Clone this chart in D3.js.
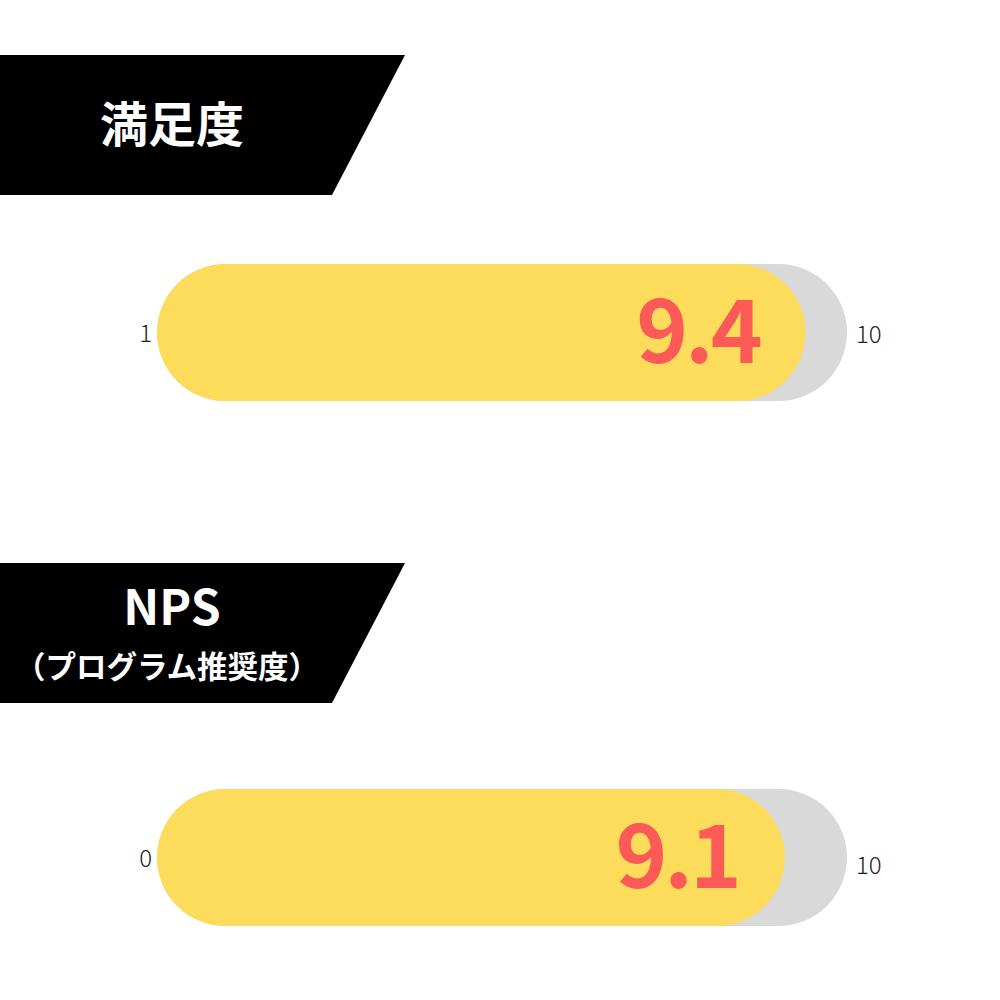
<!DOCTYPE html>
<html>
<head>
<meta charset="utf-8">
<script src="https://cdn.jsdelivr.net/npm/d3@7"></script>
<style>
  body { margin: 0; background: #fff; }
  svg { display: block; }
</style>
</head>
<body>
<script>
// data
var titles = ["満足度", "NPS"];
var subtitles = ["", "（プログラム推奨度）"];
var values = [9.4, 9.1];
var minLabels = ["1", "0"];
var maxLabels = ["10", "10"];

// layout
let w = 1000;
let h = 1000;
let bannerY = [55, 563];
let bannerH = 140;
let trackY = [264, 789];
let trackH = 137;

let svg = d3.select("body")
            .append("svg")
            .attr("width", w)
            .attr("height", h);

let x = d3.scaleLinear().domain([0, 10]).range([157, 847]);

let panels = svg.selectAll("g.panel")
   .data(values.map(function(v, i){ return i; }))
   .enter()
   .append("g")
   .attr("class", "panel");

// black title banner
panels.append("path")
   .attr("d", function(i){
     let t = bannerY[i];
     return "M0," + t + "L405," + t + "L332," + (t + bannerH) + "L0," + (t + bannerH) + "Z";
   })
   .attr("fill", "#000");

panels.append("text")
   .text(function(i){ return titles[i]; })
   .attr("x", 172)
   .attr("y", function(i){ return subtitles[i] ? bannerY[i] + 62 : bannerY[i] + 87; })
   .attr("text-anchor", "middle")
   .attr("font-family", "'Noto Sans CJK JP', 'Noto Sans', sans-serif")
   .attr("font-weight", 700)
   .attr("font-size", "48px")
   .attr("fill", "#fff");

panels.filter(function(i){ return subtitles[i]; })
   .append("text")
   .text(function(i){ return subtitles[i]; })
   .attr("x", 167)
   .attr("y", function(i){ return bannerY[i] + 115; })
   .attr("text-anchor", "middle")
   .attr("font-family", "'Noto Sans CJK JP', sans-serif")
   .attr("font-weight", 700)
   .attr("font-size", "30.5px")
   .attr("fill", "#fff");

// grey track
panels.append("rect")
   .attr("x", x(0))
   .attr("y", function(i){ return trackY[i]; })
   .attr("width", x(10) - x(0))
   .attr("height", trackH)
   .attr("rx", trackH / 2)
   .attr("fill", "#d9d9d9");

// yellow value bar
panels.append("rect")
   .attr("x", x(0))
   .attr("y", function(i){ return trackY[i]; })
   .attr("width", function(i){ return x(values[i]) - x(0); })
   .attr("height", trackH)
   .attr("rx", trackH / 2)
   .attr("fill", "#fddc5c");

// value label
panels.append("text")
   .text(function(i){ return values[i].toFixed(1); })
   .attr("x", function(i){ return x(values[i]) - 46; })
   .attr("y", function(i){ return trackY[i] + 99; })
   .attr("text-anchor", "end")
   .attr("letter-spacing", "-3px")
   .attr("font-family", "'Noto Sans CJK JP', sans-serif")
   .attr("font-weight", 700)
   .attr("font-size", "88px")
   .attr("fill", "#fb5a57");

// min / max labels
panels.append("text")
   .text(function(i){ return minLabels[i]; })
   .attr("x", 152)
   .attr("y", function(i){ return trackY[i] + trackH / 2 + 9; })
   .attr("text-anchor", "end")
   .attr("font-family", "'Noto Sans CJK JP', sans-serif")
   .attr("font-weight", 300)
   .attr("font-size", "24px")
   .attr("fill", "#222");

panels.append("text")
   .text(function(i){ return maxLabels[i]; })
   .attr("x", 856)
   .attr("y", function(i){ return trackY[i] + trackH / 2 + (i ? 16 : 10); })
   .attr("text-anchor", "start")
   .attr("font-family", "'Noto Sans CJK JP', sans-serif")
   .attr("font-weight", 300)
   .attr("font-size", "24px")
   .attr("fill", "#222");
</script>
</body>
</html>
